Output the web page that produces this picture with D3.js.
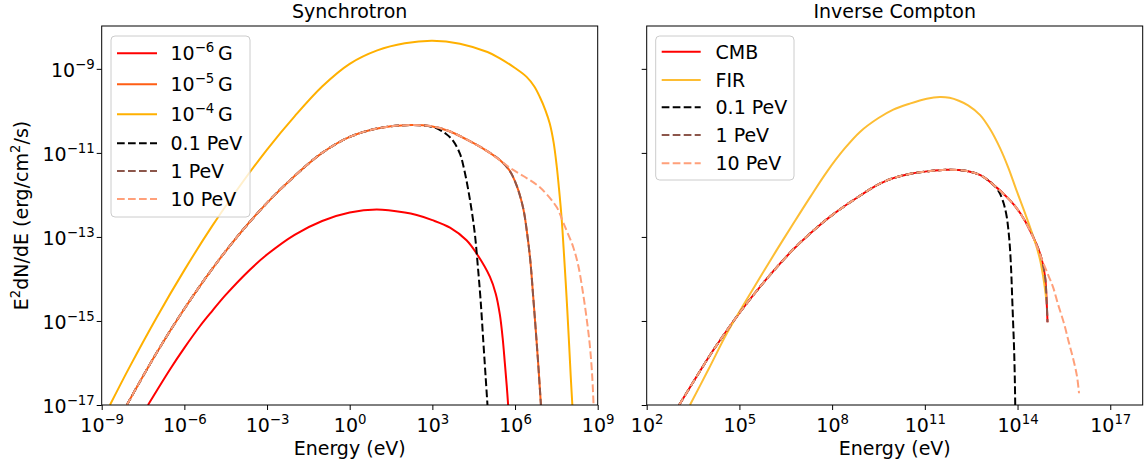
<!DOCTYPE html>
<html>
<head>
<meta charset="utf-8">
<script src="https://cdn.jsdelivr.net/npm/d3@7"></script>
<style>
  html, body { margin: 0; padding: 0; background: #fff; }
  svg text { font-family: "DejaVu Sans", sans-serif; fill: #000; }
</style>
</head>
<body>
<svg id="chart" width="1144" height="467"></svg>
<script>
// Each point: [log10 E (eV), log10 E²dN/dE (erg/cm²/s)]

// ---- Synchrotron panel ----
const synB6 = [[-7.32,-17],[-6.5,-16.13],[-6.0,-15.64],[-5.43,-15.12],[-5.0,-14.77],[-4.5,-14.38],[-3.62,-13.78],[-3.0,-13.42],[-2.0,-12.95],[-1.0,-12.62],[0.0,-12.42],[0.98,-12.35],[2.0,-12.42],[2.43,-12.48],[3.0,-12.6],[3.64,-12.78],[4.24,-13.08],[4.61,-13.4],[5.09,-13.95],[5.3,-14.35],[5.45,-14.85],[5.55,-15.4],[5.63,-16.0],[5.7,-16.55],[5.75,-17]];
const synB5 = [[-8.09,-17],[-7.0,-15.75],[-6.0,-14.71],[-5.0,-13.77],[-4.0,-12.93],[-3.0,-12.19],[-2.0,-11.55],[-1.0,-11.0],[0.0,-10.62],[1.0,-10.42],[2.0,-10.34],[3.0,-10.37],[3.6,-10.48],[4.24,-10.68],[4.9,-10.92],[5.45,-11.17],[5.8,-11.42],[6.06,-11.78],[6.3,-12.33],[6.44,-12.92],[6.56,-13.6],[6.66,-14.43],[6.75,-15.2],[6.84,-16.01],[6.94,-17]];
const synB4 = [[-8.7,-17],[-8.0,-16.11],[-7.0,-14.91],[-6.0,-13.79],[-5.0,-12.75],[-4.0,-11.8],[-3.0,-10.92],[-2.0,-10.13],[-1.0,-9.42],[0.0,-8.88],[1.0,-8.56],[2.0,-8.39],[3.0,-8.33],[4.0,-8.4],[5.0,-8.6],[5.45,-8.75],[6.0,-8.98],[6.42,-9.19],[6.7,-9.42],[6.9,-9.67],[7.1,-9.98],[7.26,-10.3],[7.4,-10.75],[7.51,-11.3],[7.6,-11.88],[7.69,-12.55],[7.78,-13.45],[7.87,-14.43],[7.95,-15.4],[8.02,-16.3],[8.08,-17]];
const synCut01 = [[-8.09,-17],[-7.0,-15.75],[-6.0,-14.71],[-5.0,-13.77],[-4.0,-12.93],[-3.0,-12.19],[-2.0,-11.55],[-1.0,-11.0],[0.0,-10.62],[1.0,-10.42],[2.0,-10.34],[3.0,-10.38],[3.5,-10.55],[3.76,-10.72],[4.0,-11.02],[4.15,-11.38],[4.36,-12.1],[4.54,-12.92],[4.65,-13.7],[4.75,-14.5],[4.85,-15.5],[4.93,-16.3],[5.0,-17]];
const synCut1 = [[-8.09,-17],[-7.0,-15.75],[-6.0,-14.71],[-5.0,-13.77],[-4.0,-12.93],[-3.0,-12.19],[-2.0,-11.55],[-1.0,-11.0],[0.0,-10.62],[1.0,-10.42],[2.0,-10.34],[3.0,-10.37],[3.6,-10.48],[4.24,-10.68],[4.9,-10.92],[5.45,-11.17],[5.8,-11.42],[6.06,-11.78],[6.3,-12.33],[6.44,-12.92],[6.56,-13.6],[6.66,-14.43],[6.75,-15.2],[6.84,-16.01],[6.94,-17]];
const synCut10 = [[-8.09,-17],[-7.0,-15.75],[-6.0,-14.71],[-5.0,-13.77],[-4.0,-12.93],[-3.0,-12.19],[-2.0,-11.55],[-1.0,-11.0],[0.0,-10.62],[1.0,-10.42],[2.0,-10.34],[3.0,-10.37],[3.6,-10.48],[4.24,-10.68],[4.9,-10.92],[5.45,-11.17],[5.8,-11.35],[6.3,-11.55],[6.9,-11.82],[7.51,-12.29],[7.75,-12.66],[8.11,-13.24],[8.3,-13.7],[8.47,-14.35],[8.62,-15.05],[8.72,-15.62],[8.8,-16.3],[8.85,-17]];

// ---- Inverse Compton panel ----
const icCMB = [[3.05,-17],[4.0,-15.87],[4.27,-15.57],[5.0,-14.81],[5.88,-14.0],[6.74,-13.3],[7.5,-12.78],[8.0,-12.48],[8.9,-12.02],[9.5,-11.75],[9.98,-11.6],[10.5,-11.5],[11.06,-11.44],[11.71,-11.4],[12.36,-11.43],[12.8,-11.53],[13.11,-11.69],[13.76,-12.13],[14.1,-12.45],[14.4,-12.84],[14.73,-13.4],[14.89,-13.95],[14.94,-14.51],[14.97,-15.03]];
const icFIR = [[3.4,-17],[4.0,-16.15],[4.59,-15.3],[5.13,-14.62],[5.67,-13.96],[6.2,-13.32],[6.72,-12.71],[7.3,-12.04],[7.83,-11.45],[8.4,-10.9],[8.9,-10.5],[9.5,-10.17],[9.98,-9.97],[10.5,-9.83],[11.06,-9.71],[11.49,-9.67],[11.8,-9.69],[12.1,-9.76],[12.4,-9.87],[12.79,-10.1],[13.1,-10.42],[13.43,-10.88],[13.7,-11.35],[13.97,-11.9],[14.2,-12.35],[14.4,-12.76],[14.6,-13.2],[14.73,-13.55],[14.82,-13.9],[14.9,-14.3],[14.93,-14.5]];
const icCut01 = [[3.05,-17],[4.0,-15.87],[4.27,-15.57],[5.0,-14.81],[5.88,-14.0],[6.74,-13.3],[7.5,-12.78],[8.0,-12.48],[8.9,-12.02],[9.5,-11.75],[9.98,-11.6],[10.5,-11.5],[11.06,-11.44],[11.71,-11.4],[12.36,-11.43],[12.8,-11.53],[13.11,-11.69],[13.3,-11.82],[13.43,-11.97],[13.55,-12.2],[13.65,-12.52],[13.72,-12.95],[13.76,-13.32],[13.8,-13.9],[13.83,-14.51],[13.86,-15.1],[13.89,-15.7],[13.915,-16.5],[13.925,-17]];
const icCut1 = [[3.05,-17],[4.0,-15.87],[4.27,-15.57],[5.0,-14.81],[5.88,-14.0],[6.74,-13.3],[7.5,-12.78],[8.0,-12.48],[8.9,-12.02],[9.5,-11.75],[9.98,-11.6],[10.5,-11.5],[11.06,-11.44],[11.71,-11.4],[12.36,-11.43],[12.8,-11.53],[13.11,-11.69],[13.76,-12.13],[14.1,-12.45],[14.4,-12.84],[14.73,-13.4],[14.89,-13.95],[14.94,-14.51],[14.97,-15.03]];
const icCut10 = [[3.05,-17],[4.0,-15.87],[4.27,-15.57],[5.0,-14.81],[5.88,-14.0],[6.74,-13.3],[7.5,-12.78],[8.0,-12.48],[8.9,-12.02],[9.5,-11.75],[9.98,-11.6],[10.5,-11.5],[11.06,-11.44],[11.71,-11.4],[12.36,-11.43],[12.8,-11.53],[13.11,-11.69],[13.76,-12.13],[14.1,-12.45],[14.4,-12.84],[14.6,-13.17],[14.78,-13.52],[15.0,-13.92],[15.16,-14.22],[15.3,-14.58],[15.5,-15.05],[15.65,-15.48],[15.8,-15.9],[15.92,-16.3],[15.99,-16.72]];

// tick exponents
const synXTicks = [-9, -6, -3, 0, 3, 6, 9];
const icXTicks = [2, 5, 8, 11, 14, 17];
const yTicks = [-17, -15, -13, -11, -9];

// legend labels
const synLabels = [
  { base: "10", sup: "\u22126", tail: "\u2009G" },
  { base: "10", sup: "\u22125", tail: "\u2009G" },
  { base: "10", sup: "\u22124", tail: "\u2009G" },
  { base: "0.1 PeV" },
  { base: "1 PeV" },
  { base: "10 PeV" }
];
const icLabels = [
  { base: "CMB" }, { base: "FIR" }, { base: "0.1 PeV" }, { base: "1 PeV" }, { base: "10 PeV" }
];

// styles
const C = {
  red: "#ff0000", orangered: "#ff5e14", orange: "#ffb000", fir: "#fdbd33",
  black: "#000000", brown: "#8c564b", salmon: "#ffa07a"
};
const DASH = "7.7,3.3";
const LW = 2;
const FS = 19, FS_SUP = 13.3;

const svg = d3.select("#chart");

const yTop = 26, yBot = 405;
const y = d3.scaleLog().domain([1e-17, Math.pow(10, -7.98)]).range([yBot, yTop]);
const xSyn = d3.scaleLog().domain([1e-9, 1e9]).range([101.7, 597.7]);
const xIC = d3.scaleLog().domain([1e2, Math.pow(10, 18.05)]).range([646.7, 1142.7]);

function panel(id, x, title, xTicks, showYLabels, series, legend) {
  const [x0, x1] = x.range();
  const g = svg.append("g");

  svg.append("clipPath").attr("id", "clip-" + id)
    .append("rect").attr("x", x0).attr("y", yTop).attr("width", x1 - x0).attr("height", yBot - yTop);

  const line = d3.line()
    .x(d => x(Math.pow(10, d[0])))
    .y(d => y(Math.pow(10, d[1])))
    .curve(d3.curveCatmullRom.alpha(0.5));

  const lines = g.append("g").attr("clip-path", `url(#clip-${id})`);
  series.forEach(s => {
    lines.append("path")
      .attr("d", line(s.data))
      .attr("fill", "none")
      .attr("stroke", s.color)
      .attr("stroke-width", LW)
      .attr("stroke-dasharray", s.dash ? DASH : null)
      .attr("stroke-linejoin", "round");
  });

  // x axis
  const xAxis = d3.axisBottom(x)
    .tickValues(xTicks.map(e => Math.pow(10, e)))
    .tickSize(5).tickSizeOuter(0).tickFormat(() => "");
  const gx = g.append("g").attr("transform", `translate(0,${yBot})`).call(xAxis);
  gx.select(".domain").remove();
  gx.selectAll(".tick line").attr("stroke", "#000").attr("stroke-width", 1);
  gx.selectAll(".tick").each(function (d, i) {
    const t = d3.select(this).select("text")
      .attr("y", 26.5).attr("dy", null)
      .attr("font-size", FS).attr("text-anchor", "middle")
      .attr("font-family", "DejaVu Sans");
    t.append("tspan").text("10");
    const e = xTicks[i];
    t.append("tspan").attr("dy", -8).attr("font-size", FS_SUP)
      .text(e < 0 ? "\u2212" + (-e) : String(e));
  });

  // y axis
  const yAxis = d3.axisLeft(y)
    .tickValues(yTicks.map(e => Math.pow(10, e)))
    .tickSize(5).tickSizeOuter(0).tickFormat(() => "");
  const gy = g.append("g").attr("transform", `translate(${x0},0)`).call(yAxis);
  gy.select(".domain").remove();
  gy.selectAll(".tick line").attr("stroke", "#000").attr("stroke-width", 1);
  gy.selectAll(".tick text").remove();
  if (showYLabels) {
    gy.selectAll(".tick").each(function (d, i) {
      const t = d3.select(this).append("text")
        .attr("x", -7).attr("y", 7.3)
        .attr("font-size", FS).attr("text-anchor", "end")
        .attr("font-family", "DejaVu Sans");
      t.append("tspan").text("10");
      t.append("tspan").attr("dy", -8).attr("font-size", FS_SUP)
        .text("\u2212" + (-yTicks[i]));
    });
  }

  // frame
  g.append("rect").attr("x", x0).attr("y", yTop)
    .attr("width", x1 - x0).attr("height", yBot - yTop)
    .attr("fill", "none").attr("stroke", "#000").attr("stroke-width", 1);

  // title
  g.append("text").attr("x", (x0 + x1) / 2).attr("y", 18)
    .attr("text-anchor", "middle").attr("font-size", FS).text(title);

  // legend
  const L = legend;
  const lg = g.append("g");
  lg.append("rect").attr("x", L.x).attr("y", L.y).attr("width", L.w).attr("height", L.h)
    .attr("rx", 4).attr("fill", "#fff").attr("fill-opacity", 0.8)
    .attr("stroke", "#cccccc").attr("stroke-width", 1);
  L.labels.forEach((lab, i) => {
    const s = series[i];
    const ry = L.rows[i];
    lg.append("line").attr("x1", L.hx0).attr("x2", L.hx1).attr("y1", ry).attr("y2", ry)
      .attr("stroke", s.color).attr("stroke-width", LW)
      .attr("stroke-dasharray", s.dash ? DASH : null);
    const t = lg.append("text").attr("x", L.tx).attr("y", ry + 7).attr("font-size", FS);
    t.append("tspan").text(lab.base);
    if (lab.sup) {
      t.append("tspan").attr("dy", -8).attr("font-size", FS_SUP).text(lab.sup);
      t.append("tspan").attr("dy", 8).text(lab.tail);
    }
  });
}

panel("syn", xSyn, "Synchrotron", synXTicks, true, [
  { data: synB6, color: C.red },
  { data: synB5, color: C.orangered },
  { data: synB4, color: C.orange },
  { data: synCut01, color: C.black, dash: true },
  { data: synCut1, color: C.brown, dash: true },
  { data: synCut10, color: C.salmon, dash: true }
], {
  x: 111, y: 36, w: 139, h: 181, hx0: 117, hx1: 157, tx: 170.5,
  rows: [53.3, 84.3, 114.3, 143.3, 171, 199], labels: synLabels
});

panel("ic", xIC, "Inverse Compton", icXTicks, false, [
  { data: icCMB, color: C.red },
  { data: icFIR, color: C.fir },
  { data: icCut01, color: C.black, dash: true },
  { data: icCut1, color: C.brown, dash: true },
  { data: icCut10, color: C.salmon, dash: true }
], {
  x: 655.7, y: 36, w: 138.3, h: 144, hx0: 661.7, hx1: 700.7, tx: 715.5,
  rows: [51.7, 80, 107.3, 135, 163.3], labels: icLabels
});

// axis titles
svg.append("text").attr("x", (101.7 + 597.7) / 2).attr("y", 455)
  .attr("text-anchor", "middle").attr("font-size", FS).text("Energy (eV)");
svg.append("text").attr("x", (646.7 + 1142.7) / 2).attr("y", 455)
  .attr("text-anchor", "middle").attr("font-size", FS).text("Energy (eV)");

const yl = svg.append("text")
  .attr("transform", `translate(28,${(yTop + yBot) / 2}) rotate(-90)`)
  .attr("text-anchor", "middle").attr("font-size", FS);
yl.append("tspan").text("E");
yl.append("tspan").attr("dy", -8).attr("font-size", FS_SUP).text("2");
yl.append("tspan").attr("dy", 8).text("dN/dE (erg/cm");
yl.append("tspan").attr("dy", -8).attr("font-size", FS_SUP).text("2");
yl.append("tspan").attr("dy", 8).text("/s)");
</script>
</body>
</html>
